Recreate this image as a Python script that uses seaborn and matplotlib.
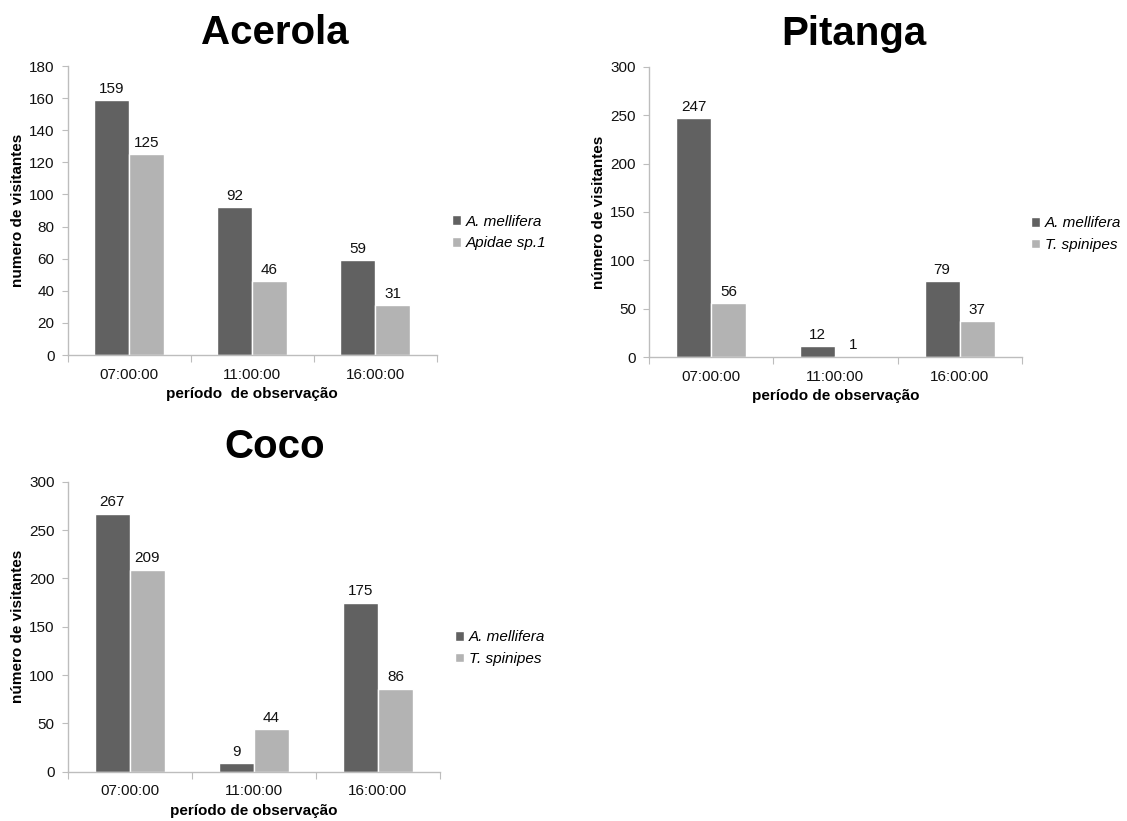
import matplotlib
matplotlib.use("Agg")
import matplotlib.pyplot as plt
import seaborn as sns
import pandas as pd
from matplotlib.patches import Patch

sns.set_style("white")
plt.rcParams["font.family"] = ["Liberation Sans", "DejaVu Sans"]
plt.rcParams["text.color"] = "black"
plt.rcParams["axes.labelcolor"] = "black"

periods = ["07:00:00", "11:00:00", "16:00:00"]

acerola_mellifera = [159, 92, 59]
acerola_apidae = [125, 46, 31]
pitanga_mellifera = [247, 12, 79]
pitanga_spinipes = [56, 1, 37]
coco_mellifera = [267, 9, 175]
coco_spinipes = [209, 44, 86]

DARK = "#616161"
LIGHT = "#b3b3b3"
AXIS = "#bdbdbd"
FS = 11

fig = plt.figure(figsize=(11.27, 8.21), dpi=100)


def panel(rect, title, s1_name, s1, s2_name, s2, ymax, ystep, ylabel, xlabel,
          title_xy, legend_xy):
    ax = fig.add_axes(rect)
    df = pd.DataFrame({
        "periodo": periods * 2,
        "especie": [s1_name] * 3 + [s2_name] * 3,
        "visitantes": list(s1) + list(s2),
    })
    sns.barplot(data=df, x="periodo", y="visitantes", hue="especie",
                palette=[DARK, LIGHT], width=0.565, gap=0, saturation=1,
                errorbar=None, ax=ax, legend=False)
    for cont in ax.containers:
        ax.bar_label(cont, padding=3, fontsize=FS, color="#111111")
    ax.set_xlim(-0.5, 2.5)
    ax.set_ylim(0, ymax)
    ax.set_yticks(range(0, ymax + 1, ystep))
    # category boundaries carry the tick marks, centres carry the labels
    ax.set_xticks([-0.5, 0.5, 1.5, 2.5])
    ax.set_xticklabels([])
    ax.set_xticks([0, 1, 2], minor=True)
    ax.set_xticklabels(periods, minor=True)
    ax.tick_params(axis="x", which="major", length=5, color=AXIS, direction="out",
                   bottom=True)
    ax.tick_params(axis="x", which="minor", length=0, pad=9, labelsize=FS,
                   labelcolor="#111111")
    ax.tick_params(axis="y", length=4.5, color=AXIS, direction="out", left=True,
                   labelsize=FS, labelcolor="#111111", pad=5)
    for side in ("top", "right"):
        ax.spines[side].set_visible(False)
    for side in ("left", "bottom"):
        ax.spines[side].set_color(AXIS)
        ax.spines[side].set_linewidth(1)
    ax.set_xlabel(xlabel, fontsize=FS, fontweight="bold", labelpad=4)
    ax.set_ylabel(ylabel, fontsize=FS, fontweight="bold", labelpad=3)
    fig.text(title_xy[0], title_xy[1], title, fontsize=29, fontweight="bold",
             ha="center", va="baseline", color="black")
    handles = [Patch(facecolor=DARK, label=s1_name),
               Patch(facecolor=LIGHT, label=s2_name)]
    fig.legend(handles=handles, loc="center left", bbox_to_anchor=legend_xy,
               frameon=False, prop={"style": "italic", "size": FS},
               handlelength=0.6, handleheight=0.6, handletextpad=0.3,
               labelspacing=0.5, borderaxespad=0, borderpad=0)
    return ax


panel([0.0601, 0.5676, 0.3274, 0.352], "Acerola",
      "A. mellifera", acerola_mellifera, "Apidae sp.1", acerola_apidae,
      180, 20, "numero de visitantes", "período  de observação",
      (0.244, 1 - 43.5 / 821), (0.401, 0.7168))

panel([0.5759, 0.5648, 0.3307, 0.354], "Pitanga",
      "A. mellifera", pitanga_mellifera, "T. spinipes", pitanga_spinipes,
      300, 50, "número de visitantes", "período de observação",
      (0.758, 1 - 45 / 821), (0.915, 0.715))

panel([0.0601, 0.0600, 0.3303, 0.3533], "Coco",
      "A. mellifera", coco_mellifera, "T. spinipes", coco_spinipes,
      300, 50, "número de visitantes", "período de observação",
      (0.244, 1 - 458 / 821), (0.404, 0.2107))

fig.savefig("out.png", dpi=100, facecolor="white")
